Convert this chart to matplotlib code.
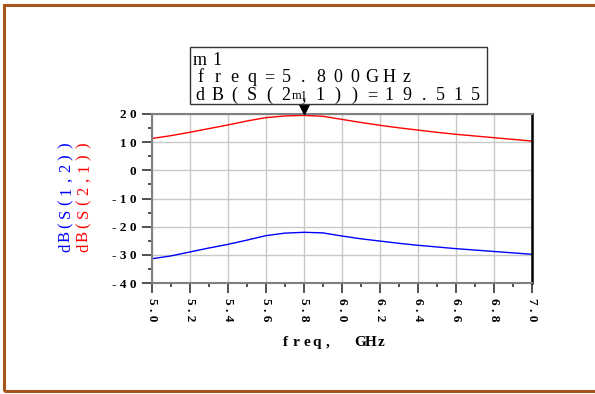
import matplotlib
matplotlib.use("Agg")
import matplotlib.pyplot as plt
from matplotlib.patches import Rectangle
from matplotlib.ticker import MultipleLocator
from matplotlib.transforms import offset_copy

# sweep data
freq = [5.0, 5.1, 5.2, 5.3, 5.4, 5.5, 5.6, 5.7, 5.8, 5.9, 6.0,
        6.1, 6.2, 6.3, 6.4, 6.5, 6.6, 6.7, 6.8, 6.9, 7.0]
s21_db = [11.3, 12.3, 13.5, 14.8, 16.1, 17.5, 18.7, 19.3, 19.5, 19.2, 18.1,
          17.0, 16.0, 15.1, 14.3, 13.5, 12.8, 12.2, 11.6, 11.0, 10.4]
s12_db = [-31.4, -30.4, -29.0, -27.6, -26.3, -24.8, -23.2, -22.3, -22.0, -22.2, -23.3,
          -24.3, -25.1, -25.9, -26.6, -27.2, -27.8, -28.3, -28.8, -29.3, -29.8]

x_ticks = [5.0, 5.2, 5.4, 5.6, 5.8, 6.0, 6.2, 6.4, 6.6, 6.8, 7.0]
y_ticks = [-40, -30, -20, -10, 0, 10, 20]

marker_freq = 5.8
marker_val = 19.515
marker_lines = ["m1", "freq=5.800GHz", "dB(S(2,1))=19.515"]

W, H = 595, 394
SERIF = "Liberation Serif"


def spaced(s):
    return " ".join(s)


def pitched(fig, x0, y0, s, pitch, vertical=False, **kw):
    # ADS-style text: one glyph per fixed cell, positions in pixels from top-left
    for i, ch in enumerate(s):
        if ch == " ":
            continue
        if vertical:
            x, y, rot = x0, y0 - i * pitch, 90
        else:
            x, y, rot = x0 + i * pitch, y0, 0
        fig.text(x / W, 1 - y / H, ch, rotation=rot, rotation_mode="anchor",
                 ha="center", va="baseline", **kw)


fig = plt.figure(figsize=(W / 100, H / 100), dpi=100)
fig.patch.set_facecolor("white")

# outer frame
fig.patches.append(Rectangle((4 / W, 1 - 391 / H), 600 / W, 386 / H,
                             transform=fig.transFigure, fill=False,
                             edgecolor="#a9561c", linewidth=2.2))

ax = fig.add_axes([151.7 / W, 1 - 283 / H, 380 / W, 169 / H])
ax.plot(freq, s21_db, color="#ff0000", linewidth=1.0)
ax.plot(freq, s12_db, color="#0000ff", linewidth=1.0)

ax.set_xlim(5.0, 7.0)
ax.set_ylim(-40, 20)
ax.set_xticks(x_ticks)
ax.set_yticks(y_ticks)
ax.xaxis.set_minor_locator(MultipleLocator(0.1))
ax.yaxis.set_minor_locator(MultipleLocator(5))
ax.set_xticklabels([spaced(f"{v:.1f}") for v in x_ticks], rotation=-90,
                   family=SERIF, fontweight="bold", fontsize=9.5)
ax.set_yticklabels([spaced(str(v)) for v in y_ticks],
                   family=SERIF, fontweight="bold", fontsize=9.5)
ax.tick_params(which="major", length=7, width=1.2, color="#333333", pad=4)
ax.tick_params(which="minor", length=3, width=1.2, color="#333333")
ax.grid(True, which="major", color="#c8c8c8", linewidth=1.0)
ax.set_axisbelow(True)

for side in ["left", "top", "bottom"]:
    ax.spines[side].set_color("#808080")
    ax.spines[side].set_linewidth(1.5)
ax.spines["right"].set_color("black")
ax.spines["right"].set_linewidth(1.8)

# x label
pitched(fig, 285, 346, "freq,  GHz", 10.7, family=SERIF, fontweight="bold", fontsize=11)

# stacked y labels, one per trace
pitched(fig, 70, 248, "dB(S(1,2))", 11.4, vertical=True, color="#0000ff",
        family=SERIF, fontsize=12)
pitched(fig, 88, 248, "dB(S(2,1))", 11.4, vertical=True, color="#ff0000",
        family=SERIF, fontsize=12)

# marker m1
tip = offset_copy(ax.transData, fig=fig, y=4.5, units="points")
ax.plot([marker_freq], [20], marker="v", markersize=9, color="black",
        clip_on=False, zorder=5, transform=tip)
fig.patches.append(Rectangle((190 / W, 1 - 104 / H), 297 / W, 57 / H,
                             transform=fig.transFigure, fill=True,
                             facecolor="white", edgecolor="#333333", linewidth=1.0))
for i, line in enumerate(marker_lines):
    pitched(fig, 200, 65 + 17.5 * i, line, 17.2, family=SERIF, fontsize=13)
fig.text(300 / W, 1 - 96 / H, "m1", ha="center", va="center",
         family=SERIF, fontsize=9)

fig.savefig("out.png", dpi=100)
